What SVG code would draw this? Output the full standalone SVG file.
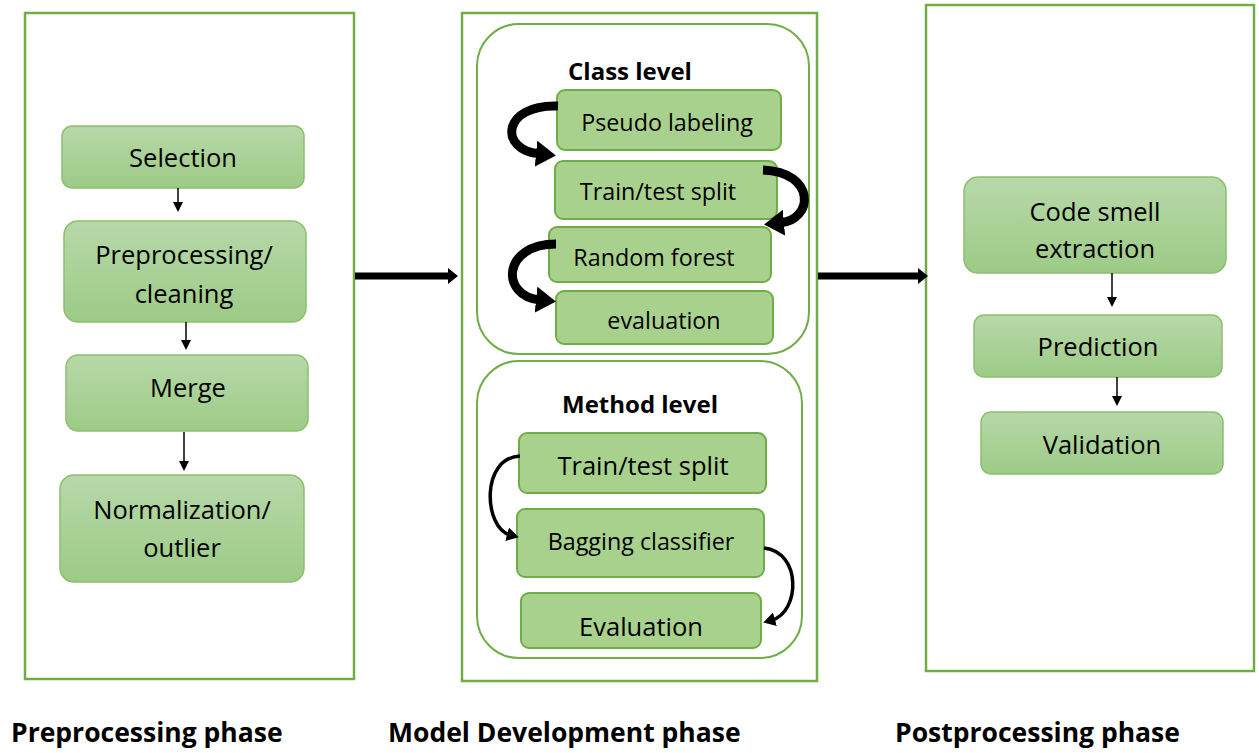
<svg xmlns="http://www.w3.org/2000/svg" width="1259" height="753" viewBox="0 0 1259 753">
<defs>
<linearGradient id="g" x1="0" y1="0" x2="0" y2="1">
<stop offset="0" stop-color="#b7d8a9"/>
<stop offset="1" stop-color="#9dcb86"/>
</linearGradient>
<marker id="ah" viewBox="0 0 10 10" refX="2" refY="5" markerWidth="10" markerHeight="10" markerUnits="userSpaceOnUse" orient="auto">
<path d="M0,0 L10,5 L0,10 z" fill="#000"/>
</marker>
<marker id="ahBig" viewBox="0 0 10 16" refX="2" refY="8" markerWidth="10" markerHeight="16" markerUnits="userSpaceOnUse" orient="auto">
<path d="M0,0 L10,8 L0,16 z" fill="#000"/>
</marker>
<marker id="ahCurve" viewBox="0 0 20 26" refX="4" refY="13" markerWidth="20" markerHeight="26" markerUnits="userSpaceOnUse" orient="auto">
<path d="M0,0 L20,13 L0,26 z" fill="#000"/>
</marker>
<marker id="ahThin" viewBox="0 0 12 14" refX="3" refY="7" markerWidth="12" markerHeight="14" markerUnits="userSpaceOnUse" orient="auto">
<path d="M0,0 L12,7 L0,14 z" fill="#000"/>
</marker>
</defs>
<style>
.panel{fill:#fff;stroke:#70ad47;stroke-width:2.5}
.group{fill:#fff;stroke:#70ad47;stroke-width:2}
.gbox{fill:url(#g);stroke:#8cc06e;stroke-width:1.5}
.fbox{fill:#a9d18e;stroke:#70ad47;stroke-width:2}
text{font-family:"Open Sans","Liberation Sans",sans-serif;fill:#000}
.t{font-size:25.5px;text-anchor:middle}
.tm{font-size:23.3px;text-anchor:middle}
.h{font-size:24px;font-weight:bold;text-anchor:middle}
.lbl{font-size:26.5px;font-weight:bold}
.conn{fill:none;stroke:#000}
</style>

<g id="panel-pre"><rect class="panel" x="25" y="13" width="329" height="666"/></g>
<g id="panel-model"><rect class="panel" x="462" y="13" width="355" height="668"/></g>
<g id="panel-post"><rect class="panel" x="926" y="5" width="328" height="666"/></g>

<g id="class-level"><rect class="group" x="477" y="24" width="332" height="330" rx="42"/><text class="h" x="630" y="80">Class level</text></g>
<g id="method-level"><rect class="group" x="477" y="361" width="325" height="297" rx="42"/><text class="h" x="640" y="413">Method level</text></g>

<g id="selection"><rect class="gbox" x="62" y="126" width="242" height="62" rx="10"/><text class="t" x="183" y="167">Selection</text></g>
<g id="preprocessing"><rect class="gbox" x="64" y="221" width="242" height="101" rx="14"/><text class="t" x="184" y="264">Preprocessing/</text><text class="t" x="184" y="303">cleaning</text></g>
<g id="merge"><rect class="gbox" x="66" y="355" width="242" height="76" rx="12"/><text class="t" x="188" y="397">Merge</text></g>
<g id="normalization"><rect class="gbox" x="60" y="475" width="244" height="107" rx="14"/><text class="t" x="182" y="519">Normalization/</text><text class="t" x="182" y="557">outlier</text></g>

<g id="pseudo"><rect class="fbox" x="557" y="90" width="224" height="60" rx="8"/><text class="tm" x="667" y="131">Pseudo labeling</text></g>
<g id="split1"><rect class="fbox" x="555" y="161" width="222" height="58" rx="8"/><text class="tm" x="658" y="200">Train/test split</text></g>
<g id="rf"><rect class="fbox" x="549" y="227" width="222" height="55" rx="8"/><text class="tm" x="654" y="266">Random forest</text></g>
<g id="eval1"><rect class="fbox" x="556" y="291" width="217" height="53" rx="8"/><text class="tm" x="664" y="329">evaluation</text></g>

<g id="split2"><rect class="fbox" x="519" y="433" width="247" height="60" rx="8"/><text class="t" x="643" y="475">Train/test split</text></g>
<g id="bagging"><rect class="fbox" x="517" y="509" width="247" height="68" rx="8"/><text class="tm" x="641" y="550">Bagging classifier</text></g>
<g id="eval2"><rect class="fbox" x="521" y="593" width="240" height="55" rx="8"/><text class="t" x="641" y="636">Evaluation</text></g>

<g id="code-smell"><rect class="gbox" x="964" y="177" width="262" height="96" rx="14"/><text class="t" x="1095" y="221">Code smell</text><text class="t" x="1095" y="258">extraction</text></g>
<g id="prediction"><rect class="gbox" x="974" y="315" width="248" height="62" rx="10"/><text class="t" x="1098" y="356">Prediction</text></g>
<g id="validation"><rect class="gbox" x="981" y="412" width="242" height="62" rx="10"/><text class="t" x="1102" y="454">Validation</text></g>

<g id="connectors">
<path class="conn" stroke-width="1.5" d="M178,188 V204" marker-end="url(#ah)"/>
<path class="conn" stroke-width="1.5" d="M186,322 V342" marker-end="url(#ah)"/>
<path class="conn" stroke-width="1.5" d="M184,432 V463" marker-end="url(#ah)"/>
<path class="conn" stroke-width="1.5" d="M1112,273 V299" marker-end="url(#ah)"/>
<path class="conn" stroke-width="1.5" d="M1117,377 V398" marker-end="url(#ah)"/>
<path class="conn" stroke-width="7" d="M355,276 H450" marker-end="url(#ahBig)"/>
<path class="conn" stroke-width="7" d="M818,276 H920" marker-end="url(#ahBig)"/>
<path class="conn" stroke-width="9" d="M558,106 C502,104 498,150 540,154" marker-end="url(#ahCurve)"/>
<path class="conn" stroke-width="9" d="M763,170 C816,172 814,220 780,223" marker-end="url(#ahCurve)"/>
<path class="conn" stroke-width="9" d="M556,244 C502,244 500,296 540,300" marker-end="url(#ahCurve)"/>
<path class="conn" stroke-width="3.5" d="M520,456 C480,458 484,528 510,535" marker-end="url(#ahThin)"/>
<path class="conn" stroke-width="3.5" d="M764,548 C802,552 800,612 772,620" marker-end="url(#ahThin)"/>
</g>

<g id="phase-labels">
<text class="lbl" x="11" y="742">Preprocessing phase</text>
<text class="lbl" x="388" y="742">Model Development phase</text>
<text class="lbl" x="895" y="742">Postprocessing phase</text>
</g>
</svg>
